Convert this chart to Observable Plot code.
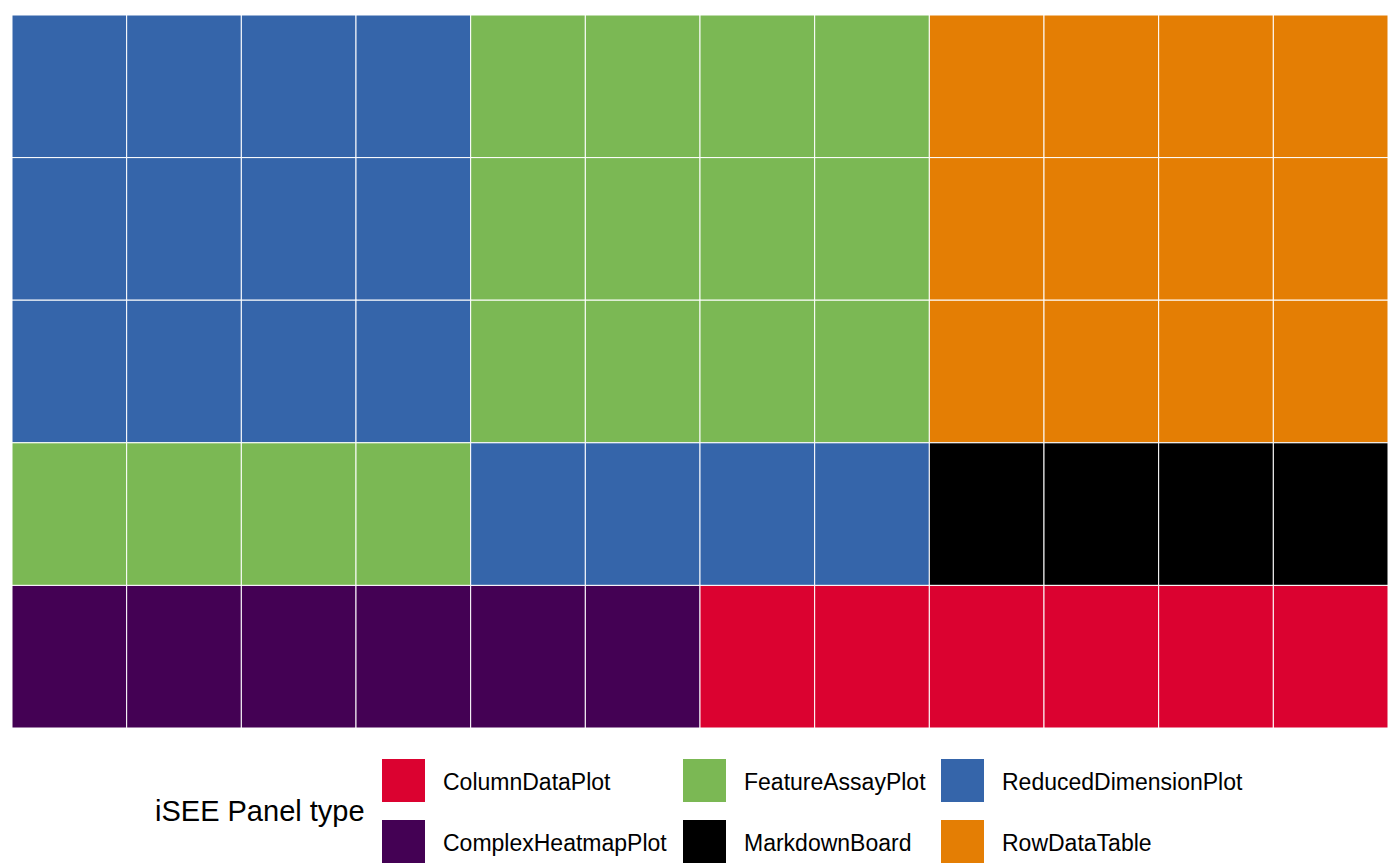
<!DOCTYPE html>
<html>
<head>
<meta charset="utf-8">
<script src="https://cdn.jsdelivr.net/npm/d3@7"></script>
<script src="https://cdn.jsdelivr.net/npm/@observablehq/plot@0.6"></script>
<style>
  html, body { margin: 0; padding: 0; background: #ffffff; }
  #chart svg { display: block; }
  #legend svg { display: block; }
</style>
</head>
<body>
<div id="chart"></div>
<div id="legend"></div>
<script>
// Panel types (legend order) and their colours
const panelTypes = ["ColumnDataPlot", "ComplexHeatmapPlot", "FeatureAssayPlot", "MarkdownBoard", "ReducedDimensionPlot", "RowDataTable"];
const panelColors = ["#DB0230", "#440154", "#7BB854", "#000000", "#3565AA", "#E47E04"];
const abbrev = {C: "ColumnDataPlot", H: "ComplexHeatmapPlot", F: "FeatureAssayPlot", M: "MarkdownBoard", R: "ReducedDimensionPlot", T: "RowDataTable"};

// Waffle grid: one array per row (top to bottom), one entry per column
const columns = [1, 2, 3, 4, 5, 6, 7, 8, 9, 10, 11, 12];
const rows = [1, 2, 3, 4, 5];
const row1 = ["R","R","R","R","F","F","F","F","T","T","T","T"];
const row2 = ["R","R","R","R","F","F","F","F","T","T","T","T"];
const row3 = ["R","R","R","R","F","F","F","F","T","T","T","T"];
const row4 = ["F","F","F","F","R","R","R","R","M","M","M","M"];
const row5 = ["H","H","H","H","H","H","C","C","C","C","C","C"];
const grid = [row1, row2, row3, row4, row5];

const cells = [];
grid.forEach((r, i) => r.forEach((code, j) => cells.push({row: rows[i], col: columns[j], type: abbrev[code]})));

const font = "'Liberation Sans', Arial, Helvetica, sans-serif";

const chart = Plot.plot({
  width: 1400,
  height: 740,
  marginTop: 15,
  marginBottom: 12,
  marginLeft: 12,
  marginRight: 12,
  style: {fontFamily: font, background: "#ffffff"},
  x: {domain: columns, padding: 0, round: false, axis: null},
  y: {domain: rows, padding: 0, round: false, axis: null},
  color: {domain: panelTypes, range: panelColors},
  marks: [
    Plot.cell(cells, {x: "col", y: "row", fill: "type", stroke: "#ffffff", strokeWidth: 1})
  ]
});
document.getElementById("chart").appendChild(chart);

// Legend below the plot
const lw = 1400, lh = 125;
const legend = d3.create("svg").attr("width", lw).attr("height", lh)
  .style("font-family", font);
legend.append("text").attr("x", 155).attr("y", 81)
  .attr("font-size", 29).attr("fill", "#000").text("iSEE Panel type");
const colX = [382, 683, 941];
const rowY = [19, 80];
panelTypes.forEach((t, k) => {
  const c = Math.floor(k / 2), r = k % 2;
  const g = legend.append("g");
  g.append("rect").attr("x", colX[c]).attr("y", rowY[r]).attr("width", 43).attr("height", 43)
    .attr("fill", panelColors[k]);
  g.append("text").attr("x", colX[c] + 61).attr("y", rowY[r] + 31)
    .attr("font-size", 23).attr("fill", "#000").text(t);
});
document.getElementById("legend").appendChild(legend.node());
</script>
</body>
</html>
